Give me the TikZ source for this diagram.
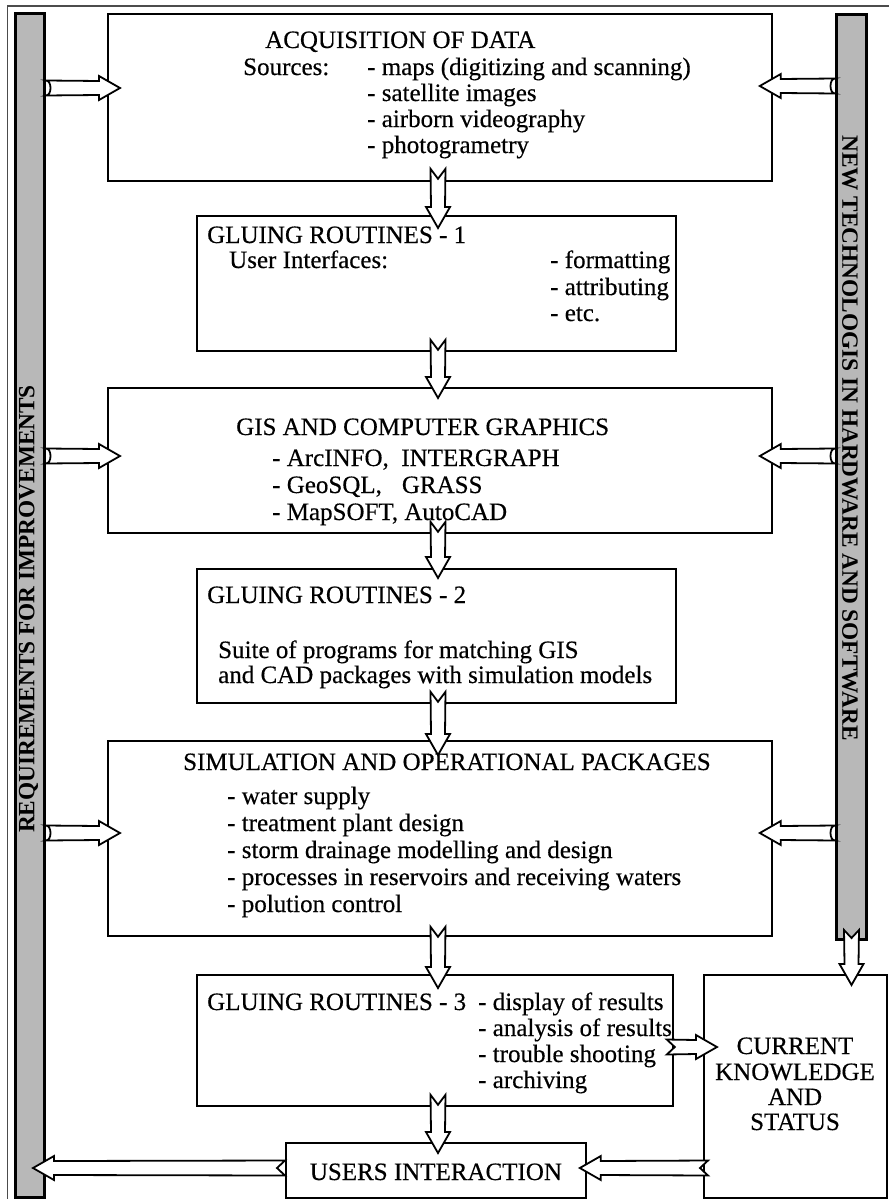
\documentclass[tikz,border=0pt]{standalone}
\usepackage{fontspec}
\setmainfont{Liberation Serif}
\newfontfamily\scanfont{Liberation Serif}[FakeBold=0.4]
\usetikzlibrary{calc}
\tikzset{
  box/.style={draw, line width=1.8pt, anchor=north west, inner sep=0pt},
  bar/.style={draw, line width=3pt, fill=black!28, anchor=north west, inner sep=0pt},
  txt/.style={anchor=base west, inner sep=0pt, font=\scanfont\fontsize{25}{27}\selectfont},
  ctxt/.style={anchor=base, inner sep=0pt, font=\scanfont\fontsize{25}{27}\selectfont},
  bartxt/.style={inner sep=0pt, font=\bfseries\fontsize{23.3}{24}\selectfont},
  blockarrow/.style={draw, line width=1.8pt, fill=white, line join=miter},
}
% #1 tail, #2 tip, #3 notch depth (V-shaped notch at the tail)
\newcommand\blk[3]{%
  \draw[blockarrow] ($(#1)!7.5pt!90:(#2)$)
    -- ($(#2)!21pt!(#1)!7pt!-90:(#1)$)
    -- ($(#2)!21pt!(#1)!12pt!-90:(#1)$)
    -- (#2)
    -- ($(#2)!21pt!(#1)!12pt!90:(#1)$)
    -- ($(#2)!21pt!(#1)!7pt!90:(#1)$)
    -- ($(#1)!7.5pt!-90:(#2)$)
    -- ($(#1)!#3!(#2)$) -- cycle;}
% #1 tail, #2 tip (rounded notch at the tail, for arrows leaving a bar)
\newcommand\blkr[2]{%
  \draw[blockarrow] ($(#1)!7.5pt!90:(#2)$)
    -- ($(#2)!21pt!(#1)!7pt!-90:(#1)$)
    -- ($(#2)!21pt!(#1)!12pt!-90:(#1)$)
    -- (#2)
    -- ($(#2)!21pt!(#1)!12pt!90:(#1)$)
    -- ($(#2)!21pt!(#1)!7pt!90:(#1)$)
    -- ($(#1)!7.5pt!-90:(#2)$)
    .. controls ($(#1)!6pt!(#2)!7.5pt!-90:(#2)$) and ($(#1)!6pt!(#2)!7.5pt!90:(#2)$) .. cycle;}
\begin{document}
\begin{tikzpicture}[x=1pt,y=-1pt]
\useasboundingbox (0,0) rectangle (889,1199);
% outer frame
\draw[line width=1.2pt, black!70] (7.5,1199) -- (7.5,6) -- (889,6);
% side bars
\node[bar, minimum width=29pt, minimum height=1184pt] (lbar) at (14,12) {};
\node[bar, minimum width=30pt, minimum height=925pt] (rbar) at (835,13) {};
% boxes
\node[box, minimum width=664pt, minimum height=167pt] (b1) at (107,13) {};
\node[box, minimum width=479pt, minimum height=135pt] (b2) at (196,215) {};
\node[box, minimum width=664pt, minimum height=145pt] (b3) at (107,387) {};
\node[box, minimum width=479pt, minimum height=134pt] (b4) at (196,568) {};
\node[box, minimum width=664pt, minimum height=195pt] (b5) at (107,740) {};
\node[box, minimum width=476pt, minimum height=131pt] (b6) at (196,974) {};
\node[box, minimum width=183pt, minimum height=223pt] (ck) at (703,974) {};
\node[box, minimum width=300pt, minimum height=55pt] (ui) at (285,1142) {};
% arrow end points
\path (lbar.east |- 0,88) coordinate (l1t) (b1.west |- 0,88) ++(13,0) coordinate (l1h);
\path (rbar.west |- 0,86) coordinate (r1t) (b1.east |- 0,86) ++(-13,0) coordinate (r1h);
\path (lbar.east |- 0,456) coordinate (l3t) (b3.west |- 0,456) ++(13,0) coordinate (l3h);
\path (rbar.west |- 0,456) coordinate (r3t) (b3.east |- 0,456) ++(-13,0) coordinate (r3h);
\path (lbar.east |- 0,833) coordinate (l5t) (b5.west |- 0,833) ++(13,0) coordinate (l5h);
\path (rbar.west |- 0,833) coordinate (r5t) (b5.east |- 0,833) ++(-13,0) coordinate (r5h);
\path (b1.south -| 438,0) ++(0,-13) coordinate (v1t) (b2.north -| 438,0) ++(0,13) coordinate (v1h);
\path (b2.south -| 438,0) ++(0,-12) coordinate (v2t) (b3.north -| 438,0) ++(0,11) coordinate (v2h);
\path (b3.south -| 438,0) ++(0,-12) coordinate (v3t) (b4.north -| 438,0) ++(0,10) coordinate (v3h);
\path (b4.south -| 438,0) ++(0,-12) coordinate (v4t) (b5.north -| 438,0) ++(0,15) coordinate (v4h);
\path (b5.south -| 438,0) ++(0,-10) coordinate (v5t) (b6.north -| 438,0) ++(0,14) coordinate (v5h);
\path (b6.south -| 438,0) ++(0,-12) coordinate (v6t) (ui.north -| 438,0) ++(0,11) coordinate (v6h);
\path (rbar.south) ++(0,-11) coordinate (rct) (ck.north -| rbar.south) ++(0,11) coordinate (rch);
\path (b6.east |- 0,1047) ++(-7,0) coordinate (gct) (ck.west |- 0,1047) ++(14,0) coordinate (gch);
\path (ck.west |- 0,1168) ++(5,0) coordinate (cut) (ui.east |- 0,1168) ++(-7,0) coordinate (cuh);
\path (ui.west |- 0,1168) coordinate (ult) (lbar.east |- 0,1168) ++(-13,0) coordinate (ulh);
% block arrows
\blkr{l1t}{l1h}
\blkr{r1t}{r1h}
\blkr{l3t}{l3h}
\blkr{r3t}{r3h}
\blkr{l5t}{l5h}
\blkr{r5t}{r5h}
\blk{v1t}{v1h}{10pt}
\blk{v2t}{v2h}{10pt}
\blk{v3t}{v3h}{10pt}
\blk{v4t}{v4h}{10pt}
\blk{v5t}{v5h}{10pt}
\blk{v6t}{v6h}{10pt}
\blk{rct}{rch}{8pt}
\blk{gct}{gch}{8pt}
\blk{cut}{cuh}{8pt}
\blk{ult}{ulh}{8pt}
% bar texts
\node[bartxt, rotate=90] (lbt) at (28.5,609) {REQUIREMENTS FOR IMPROVEMENTS};
\node[bartxt, rotate=-90] (rbt) at (850,438) {NEW TECHNOLOGIS IN HARDWARE AND SOFTWARE};
% box 1
\node[txt] (t11) at (265,48) {ACQUISITION OF DATA};
\node[txt] (t12) at (243,75) {Sources:};
\node[txt] (t13) at (367,75) {- maps (digitizing and scanning)};
\node[txt] (t14) at (367,101) {- satellite images};
\node[txt] (t15) at (367,127) {- airborn videography};
\node[txt] (t16) at (367,153) {- photogrametry};
% box 2
\node[txt] (t21) at (207,243) {GLUING ROUTINES - 1};
\node[txt] (t22) at (229,268) {User Interfaces:};
\node[txt] (t23) at (550,268) {- formatting};
\node[txt] (t24) at (550,295) {- attributing};
\node[txt] (t25) at (550,321) {- etc.};
% box 3
\node[txt] (t31) at (236,435) {GIS AND COMPUTER GRAPHICS};
\node[txt] (t32) at (272,466) {- ArcINFO,\hspace{0.5em}INTERGRAPH};
\node[txt] (t33) at (272,493) {- GeoSQL,\hspace{0.8em}GRASS};
\node[txt] (t34) at (272,520) {- MapSOFT, AutoCAD};
% box 4
\node[txt] (t41) at (207,603) {GLUING ROUTINES - 2};
\node[txt] (t42) at (218,658) {Suite of programs for matching GIS};
\node[txt] (t43) at (218,683) {and CAD packages with simulation models};
% box 5
\node[txt] (t51) at (183,770) {SIMULATION AND OPERATIONAL PACKAGES};
\node[txt] (t52) at (227,804) {- water supply};
\node[txt] (t53) at (227,831) {- treatment plant design};
\node[txt] (t54) at (227,858) {- storm drainage modelling and design};
\node[txt] (t55) at (227,885) {- processes in reservoirs and receiving waters};
\node[txt] (t56) at (227,912) {- polution control};
% box 6
\node[txt] (t61) at (207,1010) {GLUING ROUTINES - 3};
\node[txt] (t62) at (478,1010) {- display of results};
\node[txt] (t63) at (478,1036) {- analysis of results};
\node[txt] (t64) at (478,1062) {- trouble shooting};
\node[txt] (t65) at (478,1088) {- archiving};
% current knowledge
\node[ctxt] (c1) at (795,1054) {CURRENT};
\node[ctxt] (c2) at (795,1080) {KNOWLEDGE};
\node[ctxt] (c3) at (795,1105) {AND};
\node[ctxt] (c4) at (795,1130) {STATUS};
% users interaction
\node[ctxt] (u1) at (ui.center |- 0,1180) {USERS INTERACTION};
\end{tikzpicture}
\end{document}
